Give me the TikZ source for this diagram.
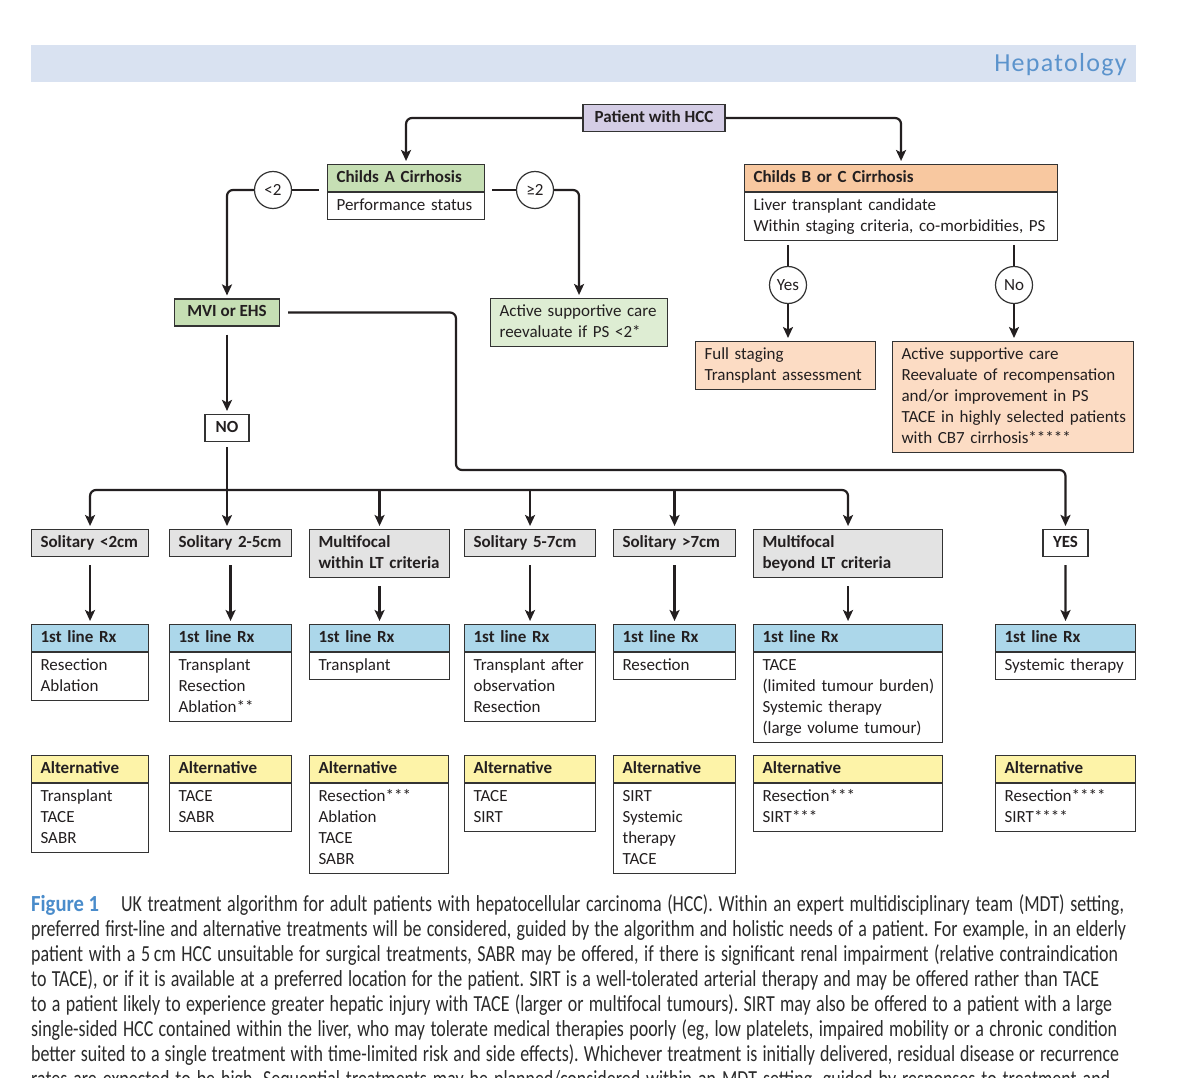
\documentclass[tikz,border=0pt]{standalone}
\usepackage{fontspec}
\usepackage{graphicx}
\setmainfont{Carlito}
\newfontfamily\capfont[FakeStretch=0.78]{Carlito}
\newfontfamily\hepfont[LetterSpace=5]{Carlito}
\usetikzlibrary{arrows.meta}
\setlength{\parindent}{0pt}
\frenchspacing
\newcommand{\TL}[1]{\begin{tabular}{@{}l@{}}#1\end{tabular}}
\definecolor{bord}{HTML}{333333}
\definecolor{lin}{HTML}{231F20}
\definecolor{txt}{HTML}{231F20}
\definecolor{purpleF}{HTML}{D4CDE5}
\definecolor{greenH}{HTML}{C6DFB4}
\definecolor{greenL}{HTML}{DEEDD3}
\definecolor{orangeH}{HTML}{F8C8A0}
\definecolor{peach}{HTML}{FCDCC4}
\definecolor{grayF}{HTML}{E3E3E3}
\definecolor{blueH}{HTML}{ACD7EA}
\definecolor{yellowH}{HTML}{FDF3A8}
\definecolor{hband}{HTML}{D9E2F1}
\definecolor{hepblue}{HTML}{5B93CC}
\definecolor{figblue}{HTML}{4A8CCB}
\definecolor{captxt}{HTML}{2B2B2B}
\begin{document}
\begin{tikzpicture}[x=1pt,y=-1pt,
  every node/.style={font=\fontsize{17}{21}\selectfont, text=txt},
  bx/.style={draw=bord, line width=1.1pt, inner xsep=9pt, inner ysep=3pt, align=left, anchor=north west, text width=#1},
  hd/.style={bx=#1, font=\fontsize{17}{21}\selectfont\bfseries},
  cbx/.style={draw=bord, line width=1.1pt, inner xsep=4pt, inner ysep=3pt, align=center, minimum width=#1, execute at begin node=\strut, font=\fontsize{17}{21}\selectfont\bfseries},
  circ/.style={circle, draw=bord, line width=1.2pt, minimum size=37pt, inner sep=0pt, fill=white},
  ln/.style={draw=lin, line width=2.2pt},
  ar/.style={ln, -{Stealth[length=11pt,width=10pt,inset=2.5pt]}, shorten >=3pt},
  capline/.style={font=\capfont\fontsize{23}{25}\selectfont, text=captxt, anchor=base west, inner sep=0pt},
]
\useasboundingbox (0,0) rectangle (1189,1078);
\fill[white] (0,0) rectangle (1189,1078);

% header band
\fill[hband] (31,45) rectangle (1136,82);
\node[font=\hepfont\fontsize{26}{30}\selectfont, text=hepblue, anchor=east, inner sep=0pt] (hep) at (1127,65) {Hepatology};

% top
\node[cbx=142, fill=purpleF] (pat) at (654,118) {Patient with HCC};

\node[hd=139, fill=greenH] (cah) at (327,164) {\TL{Childs A Cirrhosis}};
\node[bx=139] (cab) at (cah.south west) {\TL{Performance status}};
\node[circ] (lt2) at (273,190) {<2};
\node[circ] (ge2) at (535,190) {≥2};
\coordinate (caL) at (319,190);
\coordinate (caR) at (492,190);

\node[cbx=105, fill=greenH] (mvi) at (227,312.5) {MVI or EHS};
\node[bx=159, fill=greenL] (asc) at (490,298) {\TL{Active supportive care\\reevaluate if PS <2*}};

\node[hd=295, fill=orangeH] (cbh) at (744,164) {\TL{Childs B or C Cirrhosis}};
\node[bx=295] (cbb) at (cbh.south west) {\TL{Liver transplant candidate\\Within staging criteria, co-morbidities, PS}};
\coordinate (cbY) at (788,245);
\coordinate (cbN) at (1014,245);
\node[circ] (yes) at (788,285) {Yes};
\node[circ] (no) at (1014,285) {No};
\node[bx=162, fill=peach] (fs) at (695,341) {\TL{Full staging\\Transplant assessment}};
\node[bx=223, fill=peach] (nasc) at (892,341) {\TL{Active supportive care\\Reevaluate of recompensation\\and/or improvement in PS\\TACE in highly selected patients\\with CB7 cirrhosis*****}};

\node[cbx=44] (nob) at (227,428) {NO};
\coordinate (mviR) at (288,312.5);
\coordinate (mvB) at (456,470);
\coordinate (bus) at (227,490);

% row 1
\node[hd=99, fill=grayF] (s1) at (31,529) {\TL{Solitary <2cm}};
\node[hd=104, fill=grayF] (s2) at (169,529) {\TL{Solitary 2-5cm}};
\node[hd=122, fill=grayF] (s3) at (309,529) {\TL{Multifocal\\within LT criteria}};
\node[hd=113, fill=grayF] (s4) at (464,529) {\TL{Solitary 5-7cm}};
\node[hd=104, fill=grayF] (s5) at (613,529) {\TL{Solitary >7cm}};
\node[hd=171, fill=grayF] (s6) at (753,529) {\TL{Multifocal\\beyond LT criteria}};
\node[cbx=45] (yesb) at (1065.5,543) {YES};

% 1st line Rx
\node[hd=99, fill=blueH] (r1h) at (31,624) {\TL{1st line Rx}};
\node[bx=99] (r1b) at (r1h.south west) {\TL{Resection\\Ablation}};
\node[hd=104, fill=blueH] (r2h) at (169,624) {\TL{1st line Rx}};
\node[bx=104] (r2b) at (r2h.south west) {\TL{Transplant\\Resection\\Ablation**}};
\node[hd=122, fill=blueH] (r3h) at (309,624) {\TL{1st line Rx}};
\node[bx=122] (r3b) at (r3h.south west) {\TL{Transplant}};
\node[hd=113, fill=blueH] (r4h) at (464,624) {\TL{1st line Rx}};
\node[bx=113] (r4b) at (r4h.south west) {\TL{Transplant after\\observation\\Resection}};
\node[hd=104, fill=blueH] (r5h) at (613,624) {\TL{1st line Rx}};
\node[bx=104] (r5b) at (r5h.south west) {\TL{Resection}};
\node[hd=171, fill=blueH] (r6h) at (753,624) {\TL{1st line Rx}};
\node[bx=171] (r6b) at (r6h.south west) {\TL{TACE\\(limited tumour burden)\\Systemic therapy\\(large volume tumour)}};
\node[hd=122, fill=blueH] (r7h) at (995,624) {\TL{1st line Rx}};
\node[bx=122] (r7b) at (r7h.south west) {\TL{Systemic therapy}};

% Alternatives
\node[hd=99, fill=yellowH] (a1h) at (31,755) {\TL{Alternative}};
\node[bx=99] (a1b) at (a1h.south west) {\TL{Transplant\\TACE\\SABR}};
\node[hd=104, fill=yellowH] (a2h) at (169,755) {\TL{Alternative}};
\node[bx=104] (a2b) at (a2h.south west) {\TL{TACE\\SABR}};
\node[hd=121, fill=yellowH] (a3h) at (309,755) {\TL{Alternative}};
\node[bx=121] (a3b) at (a3h.south west) {\TL{Resection***\\Ablation\\TACE\\SABR}};
\node[hd=113, fill=yellowH] (a4h) at (464,755) {\TL{Alternative}};
\node[bx=113] (a4b) at (a4h.south west) {\TL{TACE\\SIRT}};
\node[hd=104, fill=yellowH] (a5h) at (613,755) {\TL{Alternative}};
\node[bx=104] (a5b) at (a5h.south west) {\TL{SIRT\\Systemic\\therapy\\TACE}};
\node[hd=171, fill=yellowH] (a6h) at (753,755) {\TL{Alternative}};
\node[bx=171] (a6b) at (a6h.south west) {\TL{Resection***\\SIRT***}};
\node[hd=122, fill=yellowH] (a7h) at (995,755) {\TL{Alternative}};
\node[bx=122] (a7b) at (a7h.south west) {\TL{Resection****\\SIRT****}};

% connectors
\draw[ar, rounded corners=6pt] (pat.west) -| (cah.north);
\draw[ar, rounded corners=6pt] (pat.east) -| (cbh.north);
\draw[ln] (caL) -- (lt2);
\draw[ar, rounded corners=6pt] (lt2) -| (mvi.north);
\draw[ln] (caR) -- (ge2);
\draw[ar, rounded corners=6pt] (ge2) -| (asc.north);
\draw[ln] (cbY) -- (yes);
\draw[ar] (yes) -- (yes |- fs.north);
\draw[ln] (cbN) -- (no);
\draw[ar] (no) -- (no |- nasc.north);
\draw[ar, shorten <=8pt] (mvi.south) -- (nob.north);
\draw[ar, rounded corners=6pt] (mviR) -| (mvB) -| (yesb.north);
\draw[ar, shorten <=5pt] (nob.south) -- (nob.south |- s2.north);
\draw[ar, rounded corners=6pt] (bus) -| (s1.north);
\draw[ar, rounded corners=6pt] (bus) -| (s6.north);
\draw[ar] (s3.north |- bus) -- (s3.north);
\draw[ar] (s4.north |- bus) -- (s4.north);
\draw[ar] (s5.north |- bus) -- (s5.north);
\foreach \i in {1,...,6} {\draw[ar, shorten <=8pt] (s\i.south) -- (r\i h.north);}
\draw[ar, shorten <=8pt] (yesb.south) -- (r7h.north);

% caption
\node[capline] (c1) at (31,911) {\makebox[1093pt][s]{{\color{figblue}\bfseries\scalebox{1.15}[1]{Figure\kern4pt 1}}\hspace{22pt}UK treatment algorithm for adult patients with hepatocellular carcinoma (HCC). Within an expert multidisciplinary team (MDT) setting,}};
\node[capline] (c2) at (31,936) {\makebox[1095pt][s]{preferred first-line and alternative treatments will be considered, guided by the algorithm and holistic needs of a patient. For example, in an elderly}};
\node[capline] (c3) at (31,961) {\makebox[1087pt][s]{patient with a 5\,cm HCC unsuitable for surgical treatments, SABR may be offered, if there is significant renal impairment (relative contraindication}};
\node[capline] (c4) at (31,986) {\makebox[1068pt][s]{to TACE), or if it is available at a preferred location for the patient. SIRT is a well-tolerated arterial therapy and may be offered rather than TACE}};
\node[capline] (c5) at (31,1011) {\makebox[1081pt][s]{to a patient likely to experience greater hepatic injury with TACE (larger or multifocal tumours). SIRT may also be offered to a patient with a large}};
\node[capline] (c6) at (31,1036) {\makebox[1086pt][s]{single-sided HCC contained within the liver, who may tolerate medical therapies poorly (eg, low platelets, impaired mobility or a chronic condition}};
\node[capline] (c7) at (31,1061) {\makebox[1088pt][s]{better suited to a single treatment with time-limited risk and side effects). Whichever treatment is initially delivered, residual disease or recurrence}};
\node[capline] (c8) at (31,1086) {\makebox[1079pt][s]{rates are expected to be high. Sequential treatments may be planned/considered within an MDT setting, guided by responses to treatment and}};
\end{tikzpicture}
\end{document}
